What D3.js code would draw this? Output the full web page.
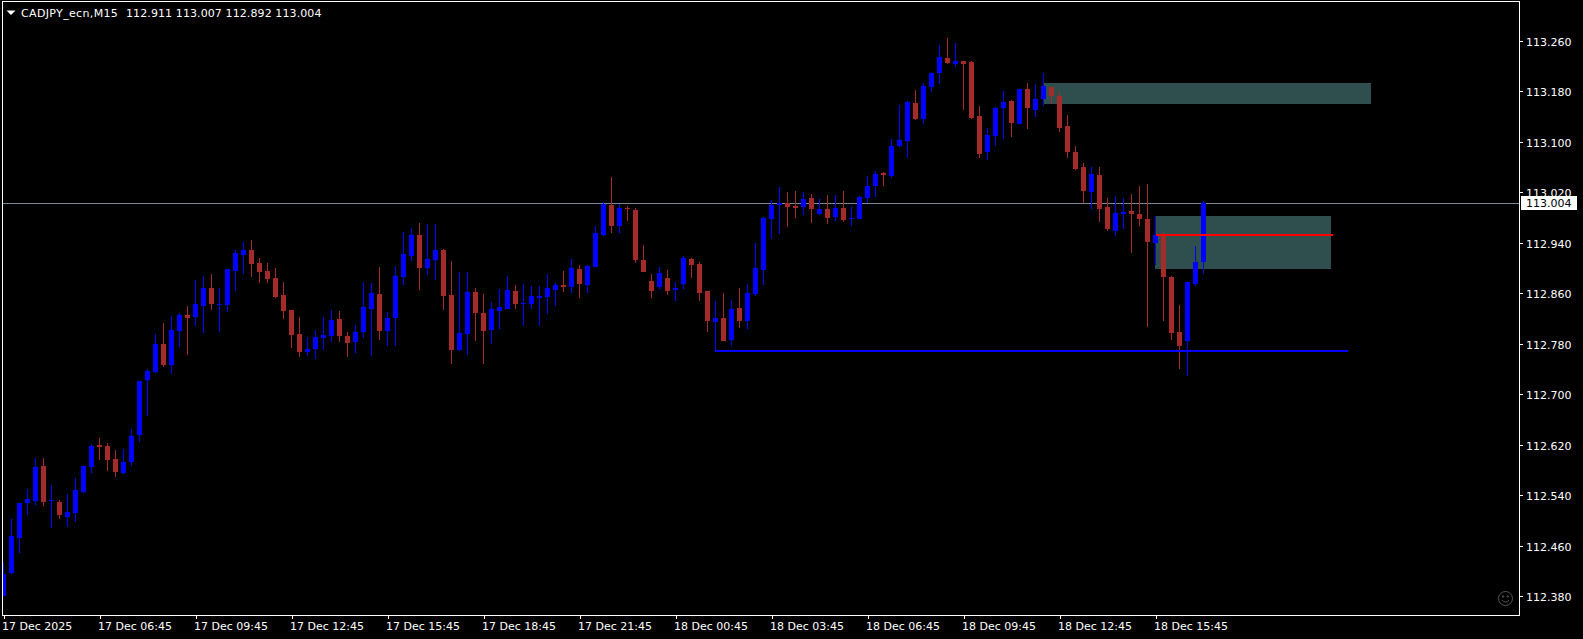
<!DOCTYPE html>
<html>
<head>
<meta charset="utf-8">
<title>CADJPY_ecn,M15</title>
<script src="https://cdnjs.cloudflare.com/ajax/libs/d3/7.8.5/d3.min.js"></script>
<style>
html,body{margin:0;padding:0;background:#000;overflow:hidden}
svg{display:block}
text{font-family:"DejaVu Sans",sans-serif;font-size:11px;fill:#fff}
</style>
</head>
<body>
<div id="chart"></div>
<script>
const symbolTitle = "CADJPY_ecn,M15";
const headerQuote = "112.911 113.007 112.892 113.004";
const lastPrice = 113.004;
const opens = [
112.381,112.418,112.474,112.529,112.532,112.588,112.532,112.531,112.507,112.513,
112.546,112.586,112.621,112.619,112.599,112.577,112.594,112.637,112.724,112.737,
112.781,112.748,112.802,112.827,112.824,112.841,112.870,112.843,112.843,112.897,
112.922,112.930,112.909,112.897,112.885,112.859,112.835,112.797,112.768,112.773,
112.790,112.794,112.820,112.794,112.784,112.800,112.836,112.860,112.801,112.822,
112.887,112.920,112.954,112.901,112.914,112.930,112.859,112.771,112.797,112.863,
112.830,112.803,112.833,112.836,112.865,112.844,112.844,112.854,112.855,112.866,
112.874,112.871,112.900,112.874,112.903,112.954,113.001,112.968,112.996,112.993,
112.914,112.881,112.871,112.885,112.866,112.876,112.916,112.908,112.865,112.816,
112.822,112.787,112.838,112.817,112.860,112.898,112.979,113.001,113.004,112.999,
112.998,113.012,112.987,112.995,112.982,112.996,112.979,112.979,113.013,113.032,
113.052,113.047,113.095,113.103,113.163,113.138,113.188,113.210,113.234,113.225,
113.229,113.228,113.142,113.086,113.111,113.155,113.166,113.130,113.185,113.152,
113.169,113.188,113.174,113.126,113.085,113.062,113.022,113.049,112.998,112.960,
112.987,112.992,112.987,112.979,112.941,112.954,112.887,112.800,112.786,112.876,112.911];
const highs = [
112.436,112.503,112.529,112.551,112.600,112.600,112.558,112.534,112.543,112.569,
112.588,112.623,112.632,112.624,112.613,112.615,112.646,112.722,112.741,112.797,
112.814,112.825,112.830,112.841,112.882,112.889,112.892,112.870,112.900,112.930,
112.943,112.946,112.917,112.909,112.901,112.879,112.835,112.824,112.792,112.803,
112.824,112.835,112.833,112.800,112.811,112.879,112.877,112.903,112.832,112.904,
112.958,112.965,112.973,112.971,112.971,112.931,112.912,112.895,112.895,112.870,
112.860,112.847,112.868,112.889,112.874,112.876,112.873,112.873,112.892,112.877,
112.897,112.916,112.906,112.906,112.968,113.006,113.045,113.003,112.999,112.996,
112.938,112.892,112.903,112.898,112.879,112.920,112.917,112.911,112.865,112.849,
112.862,112.851,112.870,112.876,112.941,112.982,113.009,113.030,113.022,113.023,
113.022,113.019,113.011,113.017,113.017,113.023,112.998,113.015,113.047,113.055,
113.054,113.106,113.160,113.166,113.184,113.195,113.210,113.255,113.266,113.258,
113.229,113.229,113.158,113.123,113.157,113.182,113.168,113.185,113.195,113.193,
113.210,113.188,113.182,113.144,113.095,113.068,113.062,113.062,113.012,113.016,
113.012,113.019,113.031,113.035,112.984,112.959,112.889,112.843,112.879,112.936,113.007];
const lows = [
112.381,112.417,112.449,112.510,112.526,112.524,112.489,112.504,112.491,112.499,
112.545,112.577,112.597,112.580,112.570,112.575,112.588,112.626,112.667,112.735,
112.745,112.733,112.776,112.764,112.809,112.798,112.835,112.800,112.832,112.865,
112.892,112.887,112.878,112.878,112.854,112.820,112.775,112.760,112.762,112.757,
112.771,112.784,112.784,112.760,112.767,112.790,112.762,112.787,112.778,112.778,
112.874,112.912,112.866,112.890,112.882,112.835,112.749,112.770,112.764,112.786,
112.749,112.781,112.805,112.836,112.836,112.809,112.836,112.809,112.828,112.841,
112.863,112.862,112.854,112.862,112.903,112.952,112.957,112.957,112.976,112.909,
112.895,112.854,112.868,112.859,112.849,112.868,112.885,112.849,112.800,112.793,
112.786,112.778,112.806,112.805,112.857,112.874,112.947,112.955,112.966,112.980,
112.985,112.973,112.985,112.971,112.976,112.974,112.968,112.979,113.005,113.014,
113.032,113.044,113.093,113.076,113.136,113.130,113.180,113.193,113.225,113.220,
113.152,113.138,113.076,113.073,113.095,113.106,113.109,113.130,113.122,113.141,
113.158,113.161,113.117,113.076,113.057,113.004,112.995,112.974,112.960,112.952,
112.963,112.925,112.968,112.808,112.906,112.818,112.788,112.742,112.730,112.873,112.892];
const closes = [
112.417,112.477,112.529,112.535,112.586,112.531,112.534,112.510,112.515,112.550,
112.588,112.619,112.618,112.597,112.578,112.594,112.635,112.722,112.738,112.781,
112.748,112.803,112.827,112.822,112.844,112.870,112.844,112.844,112.900,112.925,
112.930,112.908,112.895,112.884,112.855,112.833,112.795,112.768,112.773,112.792,
112.795,112.819,112.794,112.782,112.800,112.839,112.862,112.801,112.822,112.889,
112.923,112.954,112.901,112.916,112.930,112.857,112.771,112.798,112.863,112.830,
112.801,112.836,112.839,112.866,112.844,112.846,112.857,112.857,112.870,112.874,
112.871,112.901,112.876,112.904,112.957,113.003,112.968,112.996,112.995,112.914,
112.895,112.865,112.893,112.865,112.870,112.917,112.906,112.862,112.817,112.822,
112.786,112.836,112.817,112.862,112.901,112.980,113.001,113.004,112.998,112.996,
113.011,112.995,112.995,112.980,112.996,112.977,112.980,113.014,113.032,113.051,
113.049,113.095,113.104,113.165,113.138,113.190,113.210,113.236,113.226,113.229,
113.225,113.139,113.082,113.112,113.155,113.165,113.131,113.185,113.155,113.169,
113.190,113.174,113.123,113.085,113.058,113.024,113.050,112.995,112.963,112.989,
112.990,112.987,112.979,112.943,112.953,112.887,112.799,112.778,112.879,112.911,113.004];
const priceTicks = [113.26,113.18,113.10,113.02,112.94,112.86,112.78,112.70,112.62,112.54,112.46,112.38];
const timeTickBars = [0,12,24,36,48,60,72,84,96,108,120,132,144];
const timeTickLabels = ["17 Dec 2025","17 Dec 06:45","17 Dec 09:45","17 Dec 12:45","17 Dec 15:45","17 Dec 18:45","17 Dec 21:45","18 Dec 00:45","18 Dec 03:45","18 Dec 06:45","18 Dec 09:45","18 Dec 12:45","18 Dec 15:45"];
// zones: [startBar, endBar, upperPrice, lowerPrice]
const zoneStartBars = [130,144];
const zoneEndBars = [171,166];
const zoneUppers = [113.195,112.984];
const zoneLowers = [113.161,112.900];
// drawn levels
const redLevel = {from:144,to:166,price:112.954};
const blueLevel = {from:89,to:168,price:112.770,start:112.793};

const W=1583,H=639;
const frame={l:2.5,t:1.5,r:1519.5,b:615.5};
const x=d3.scaleLinear().domain([0,150]).range([3.5,1203.5]);
const y=d3.scaleLinear().domain([113.26,112.38]).range([41.8,597]);
const px=v=>Math.round(y(v));
const BLUE="#0000ff",RED="#a52a2a";

const svg=d3.select("#chart").append("svg").attr("width",W).attr("height",H);
svg.append("rect").attr("width",W).attr("height",H).attr("fill","#000");
svg.append("clipPath").attr("id","plot").append("rect")
  .attr("x",frame.l).attr("y",frame.t).attr("width",frame.r-frame.l).attr("height",frame.b-frame.t);
const plot=svg.append("g").attr("clip-path","url(#plot)").attr("shape-rendering","crispEdges");

// last price line
plot.append("line").attr("x1",frame.l).attr("x2",frame.r)
  .attr("y1",px(lastPrice)+.5).attr("y2",px(lastPrice)+.5).attr("stroke","#778899");
// zones
plot.selectAll("rect.zone").data(zoneStartBars).join("rect").attr("class","zone")
  .attr("x",d=>Math.floor(x(d)))
  .attr("width",(d,i)=>Math.floor(x(zoneEndBars[i]))-Math.floor(x(d)))
  .attr("y",(d,i)=>px(zoneUppers[i]))
  .attr("height",(d,i)=>px(zoneLowers[i])-px(zoneUppers[i]))
  .attr("fill","#2f4f4f");
// candles
const bars=d3.range(opens.length);
const col=i=>closes[i]>=opens[i]?BLUE:RED;
plot.selectAll("line.wick").data(bars).join("line").attr("class","wick")
  .attr("x1",x).attr("x2",x)
  .attr("y1",i=>px(highs[i])).attr("y2",i=>px(lows[i]))
  .attr("stroke",col);
plot.selectAll("rect.body").data(bars).join("rect").attr("class","body")
  .attr("x",i=>x(i)-2.5).attr("width",5)
  .attr("y",i=>px(Math.max(opens[i],closes[i])))
  .attr("height",i=>Math.max(1,px(Math.min(opens[i],closes[i]))-px(Math.max(opens[i],closes[i]))))
  .attr("fill",col);
// levels
plot.append("path")
  .attr("d",d3.line()([[x(blueLevel.from),px(blueLevel.start)],[x(blueLevel.from),px(blueLevel.price)],[x(blueLevel.to),px(blueLevel.price)]]))
  .attr("fill","none").attr("stroke",BLUE);
plot.append("line").attr("x1",x(blueLevel.from)).attr("x2",x(blueLevel.to))
  .attr("y1",px(blueLevel.price)).attr("y2",px(blueLevel.price)).attr("stroke",BLUE).attr("stroke-width",2);
plot.append("line").attr("x1",x(redLevel.from)).attr("x2",x(redLevel.to)+1)
  .attr("y1",px(redLevel.price)).attr("y2",px(redLevel.price)).attr("stroke","#ff0000").attr("stroke-width",2);

// frame
svg.append("rect").attr("x",frame.l).attr("y",frame.t).attr("width",frame.r-frame.l).attr("height",frame.b-frame.t)
  .attr("fill","none").attr("stroke","#fff").attr("shape-rendering","crispEdges");

// axes
const yAxis=d3.axisRight(y).tickValues(priceTicks).tickFormat(d3.format(".3f")).tickSize(3).tickPadding(4);
const gy=svg.append("g").attr("transform",`translate(${frame.r},-1)`).call(yAxis);
const xAxis=d3.axisBottom(x).tickValues(timeTickBars).tickFormat((d,i)=>timeTickLabels[i]).tickSize(3).tickPadding(3.5);
const gx=svg.append("g").attr("transform",`translate(0,${frame.b})`).call(xAxis);
[gy,gx].forEach(g=>{
  g.select(".domain").remove();
  g.attr("font-size",null).attr("font-family",null);
  g.selectAll("line").attr("stroke","#fff").attr("shape-rendering","crispEdges");
  g.selectAll("text").attr("fill","#fff");
});
gx.selectAll("text").attr("text-anchor","start").attr("dx",-2);
gy.selectAll("text").attr("dx",-.5).attr("y",1);

// last price tag
svg.append("rect").attr("x",1521).attr("y",196).attr("width",56).attr("height",14).attr("fill","#fff");
svg.append("text").attr("x",1526).attr("y",y(lastPrice)+4).text(d3.format(".3f")(lastPrice)).style("fill","#000");

// header
svg.append("path").attr("d","M6.5,10.5H15.5L11,15Z").attr("fill","#fff");
svg.append("text").attr("x",21).attr("y",17).attr("letter-spacing",.35).text(symbolTitle);
svg.append("text").attr("x",126).attr("y",17).attr("letter-spacing",.1).text(headerQuote);

// smiley
const sm=svg.append("g").attr("transform","translate(1505.5,598.5)").attr("fill","none").attr("stroke","#555");
sm.append("circle").attr("r",7);
sm.append("path").attr("d","M-3.5,1.5A4,4 0 0 0 3.5,1.5");
sm.append("circle").attr("cx",-2.3).attr("cy",-2).attr("r",.7).attr("fill","#555");
sm.append("circle").attr("cx",2.3).attr("cy",-2).attr("r",.7).attr("fill","#555");
</script>
</body>
</html>
